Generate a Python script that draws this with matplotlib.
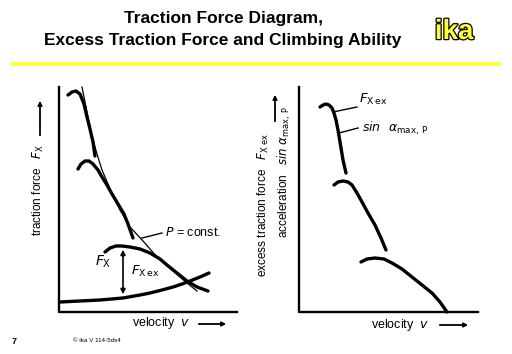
import matplotlib.pyplot as plt
import matplotlib.patheffects as pe

plt.rcParams['font.family'] = ['Liberation Sans', 'DejaVu Sans']

# curve points (figure pixels, y downwards)
gear1_x = [68, 72, 76, 80, 84, 87, 90, 93, 95]
gear1_y = [95, 92, 91, 94, 104, 117, 129, 142, 156]
gear2_x = [78, 81, 85, 89, 93, 98, 102, 107, 112, 118, 124, 128, 133]
gear2_y = [169, 164, 161, 161, 164, 170, 177, 185, 194, 204, 214, 224, 238]
gear3_x = [105, 110, 116, 122, 130, 140, 150, 160, 167, 177, 187, 197, 208]
gear3_y = [252, 248, 246, 246, 247, 249, 253, 259, 265, 273, 281, 287, 291]
hyper_x = [82, 85, 88, 92, 97, 102, 108, 113, 120, 130, 143, 157, 173, 187, 197]
hyper_y = [87, 102, 117, 136, 154, 170, 184, 196, 210, 227, 241, 257, 271, 283, 291]
resist_x = [60, 80, 100, 123, 140, 150, 162, 173, 182, 190, 200, 209]
resist_y = [302, 301, 300, 298, 295, 293, 290, 287, 284, 281, 277, 273]

ex1_x = [320, 323, 326, 329, 332, 334, 336, 338, 340, 343, 346]
ex1_y = [107, 105, 104, 105, 108, 113, 120, 130, 142, 160, 173]
ex2_x = [334, 338, 343, 348, 352, 357, 362, 368, 375, 381, 386]
ex2_y = [185, 182, 181, 182, 185, 193, 202, 213, 225, 238, 250]
ex3_x = [361, 367, 375, 384, 392, 402, 412, 422, 432, 440, 447]
ex3_y = [262, 259, 258, 259, 263, 269, 277, 285, 293, 302, 312]

fig = plt.figure(figsize=(5.12, 3.54), dpi=100)
ax = fig.add_axes([0, 0, 1, 1])
ax.set_xlim(0, 512)
ax.set_ylim(354, 0)
ax.axis('off')

# title block
ax.text(223, 19, 'Traction Force Diagram,', ha='center', va='center',
        fontsize=12.5, fontweight='bold')
ax.text(223, 41, 'Excess Traction Force and Climbing Ability', ha='center',
        va='center', fontsize=12.5, fontweight='bold')
ax.text(454, 32, 'ika', ha='center', va='center', fontsize=20, fontweight='bold',
        color='#ffff33', path_effects=[pe.withStroke(linewidth=1.8, foreground='black')])
ax.plot([12, 500], [64, 64], color='#ffff33', lw=2.8, solid_capstyle='round')

# left panel
ax.plot([59, 59, 237], [87, 312, 312], color='black', lw=1.7)
ax.plot(hyper_x, hyper_y, color='black', lw=0.9)
for xs, ys in [(gear1_x, gear1_y), (gear2_x, gear2_y), (gear3_x, gear3_y),
               (resist_x, resist_y)]:
    ax.plot(xs, ys, color='black', lw=2.4, solid_capstyle='round')
ax.annotate('', xy=(123, 247), xytext=(123, 297),
            arrowprops=dict(arrowstyle='<|-|>', color='black', lw=1.2,
                            mutation_scale=7))
ax.plot([142, 162], [238, 233], color='black', lw=1)
ax.text(165, 232, '$P$ = const.', ha='left', va='center', fontsize=9)
ax.text(95, 262, r'$F_\mathrm{X}$', ha='left', va='center', fontsize=10)
ax.text(131, 271, r'$F_{\mathrm{X}\,\mathrm{ex}}$', ha='left', va='center', fontsize=9.5)

ax.text(38, 190, r'traction force   $F_\mathrm{X}$', rotation=90, ha='center',
        va='center', fontsize=8.5)
ax.annotate('', xy=(40, 98), xytext=(40, 138),
            arrowprops=dict(arrowstyle='-|>', color='black', lw=1.3, mutation_scale=6))
ax.text(161, 323, r'velocity  $v$', ha='center', va='center', fontsize=9)
ax.annotate('', xy=(229, 324), xytext=(196, 324),
            arrowprops=dict(arrowstyle='-|>', color='black', lw=1.3, mutation_scale=6))

# right panel
ax.plot([299, 299, 478], [87, 312, 312], color='black', lw=1.7)
for xs, ys in [(ex1_x, ex1_y), (ex2_x, ex2_y), (ex3_x, ex3_y)]:
    ax.plot(xs, ys, color='black', lw=2.4, solid_capstyle='round')
ax.plot([333, 357], [112, 107], color='black', lw=1)
ax.plot([339, 358], [133, 128], color='black', lw=1)
ax.text(359, 99, r'$F_{\mathrm{X}\,\mathrm{ex}}$', ha='left', va='center', fontsize=9.5)
ax.text(362, 128, r'$sin\ \ \alpha_{\mathrm{max,\,P}}$', ha='left', va='center', fontsize=9)

ax.text(263, 205, r'excess traction force   $F_{\mathrm{X\ ex}}$', rotation=90,
        ha='center', va='center', fontsize=8.5)
ax.annotate('', xy=(275, 92), xytext=(275, 124),
            arrowprops=dict(arrowstyle='-|>', color='black', lw=1.3, mutation_scale=6))
ax.text(284, 172, r'acceleration   $sin\ \alpha_{\mathrm{max,\,P}}$', rotation=90,
        ha='center', va='center', fontsize=8.5)
ax.text(400, 325, r'velocity  $v$', ha='center', va='center', fontsize=9)
ax.annotate('', xy=(471, 325), xytext=(437, 325),
            arrowprops=dict(arrowstyle='-|>', color='black', lw=1.3, mutation_scale=6))

# footer
ax.text(14, 341, '7', ha='center', va='center', fontsize=6.5, fontweight='bold')
ax.text(73, 340, '\u00a9 ika V 114-5ds4', ha='left', va='center', fontsize=4.5)

fig.savefig('out.png', dpi=100)
